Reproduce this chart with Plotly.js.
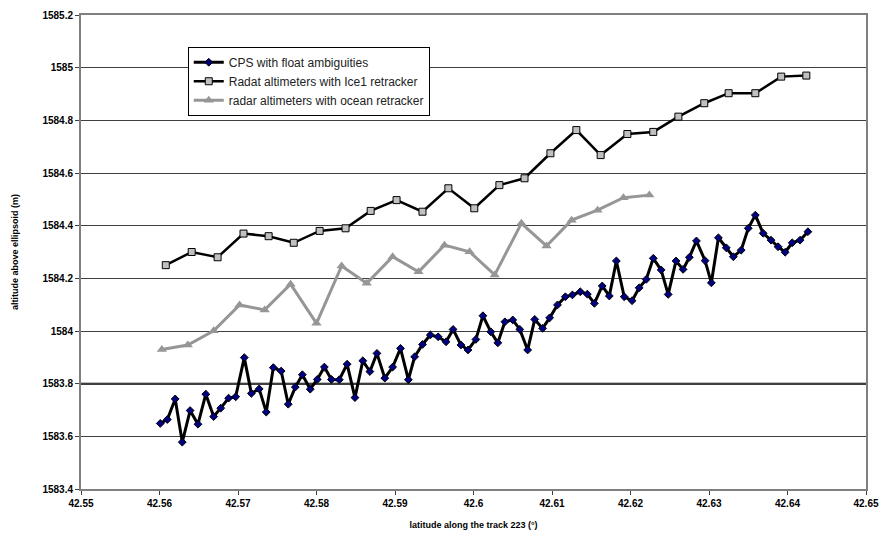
<!DOCTYPE html>
<html>
<head>
<meta charset="utf-8">
<script src="https://cdn.plot.ly/plotly-3.0.1.min.js"></script>
<style>
  html, body { margin: 0; padding: 0; background: #ffffff; }
  #chart { width: 881px; height: 537px; }
</style>
</head>
<body>
<div id="chart"></div>
<script>
// GPS profile with float ambiguities (latitude in degrees, altitude in m)
const gpsLat = [
  42.5601, 42.5610, 42.5620, 42.5629, 42.5639, 42.5649, 42.5659, 42.5669, 42.5678, 42.5688,
  42.5697, 42.5708, 42.5717, 42.5727, 42.5736, 42.5745, 42.5755, 42.5764, 42.5773, 42.5782,
  42.5792, 42.5801, 42.5810, 42.5819, 42.5829, 42.5839, 42.5849, 42.5859, 42.5868, 42.5877,
  42.5887, 42.5897, 42.5907, 42.5917, 42.5925, 42.5935, 42.5945, 42.5955, 42.5965, 42.5974,
  42.5984, 42.5993, 42.6003, 42.6012, 42.6022, 42.6031, 42.6040, 42.6050, 42.6059, 42.6069,
  42.6078, 42.6088, 42.6097, 42.6107, 42.6117, 42.6126, 42.6136, 42.6145, 42.6154, 42.6164,
  42.6173, 42.6182, 42.6192, 42.6202, 42.6211, 42.6220, 42.6229, 42.6239, 42.6248, 42.6258,
  42.6267, 42.6275, 42.6284, 42.6295, 42.6303, 42.6312, 42.6322, 42.6331, 42.6341, 42.6350,
  42.6359, 42.6369, 42.6379, 42.6388, 42.6397, 42.6406, 42.6416, 42.6426
];
const gpsAlt = [
  1583.649, 1583.664, 1583.742, 1583.578, 1583.698, 1583.646, 1583.760, 1583.675, 1583.707, 1583.745,
  1583.750, 1583.899, 1583.763, 1583.780, 1583.692, 1583.861, 1583.848, 1583.722, 1583.787, 1583.834,
  1583.779, 1583.816, 1583.863, 1583.816, 1583.815, 1583.874, 1583.747, 1583.887, 1583.846, 1583.915,
  1583.821, 1583.863, 1583.934, 1583.815, 1583.902, 1583.949, 1583.985, 1583.978, 1583.959, 1584.006,
  1583.947, 1583.928, 1583.968, 1584.058, 1583.997, 1583.955, 1584.035, 1584.042, 1584.006, 1583.928,
  1584.044, 1584.010, 1584.050, 1584.099, 1584.130, 1584.137, 1584.149, 1584.140, 1584.105, 1584.171,
  1584.133, 1584.266, 1584.130, 1584.115, 1584.164, 1584.196, 1584.276, 1584.232, 1584.139, 1584.266,
  1584.234, 1584.280, 1584.342, 1584.267, 1584.183, 1584.354, 1584.316, 1584.282, 1584.307, 1584.390,
  1584.440, 1584.371, 1584.345, 1584.320, 1584.299, 1584.335, 1584.345, 1584.377
];

// Radar altimeter heights, Ice1 retracker
const ice1Lat = [
  42.5608, 42.5641, 42.5674, 42.5707, 42.5739, 42.5771, 42.5804, 42.5837, 42.5869, 42.5902,
  42.5935, 42.5968, 42.6001, 42.6033, 42.6065, 42.6098, 42.6131, 42.6162, 42.6196, 42.6229,
  42.6261, 42.6294, 42.6325, 42.6359, 42.6392, 42.6424
];
const ice1Alt = [
  1584.250, 1584.300, 1584.280, 1584.370, 1584.360, 1584.335, 1584.380, 1584.390, 1584.456, 1584.497,
  1584.453, 1584.542, 1584.466, 1584.554, 1584.580, 1584.675, 1584.763, 1584.668, 1584.748, 1584.756,
  1584.814, 1584.865, 1584.903, 1584.903, 1584.966, 1584.970
];

// Radar altimeter heights, ocean retracker
const oceanLat = [
  42.5603, 42.5636, 42.5669, 42.5702, 42.5734, 42.5767, 42.5800, 42.5832, 42.5864, 42.5897,
  42.5930, 42.5963, 42.5995, 42.6027, 42.6061, 42.6093, 42.6125, 42.6158, 42.6191, 42.6224
];
const oceanAlt = [
  1583.930, 1583.947, 1584.001, 1584.099, 1584.080, 1584.178, 1584.029, 1584.247, 1584.181, 1584.282,
  1584.225, 1584.326, 1584.301, 1584.213, 1584.409, 1584.323, 1584.421, 1584.459, 1584.506, 1584.516
];

const seriesNames = [
  'CPS with float ambiguities',
  'Radat altimeters with Ice1 retracker',
  'radar altimeters with ocean retracker'
];

const axisTitleX = 'latitude along the track 223 (°)';
const axisTitleY = 'altitude above ellipsoid (m)';

const tickFont = { family: '"Liberation Sans", Arial, sans-serif', size: 10, color: '#000000', weight: 700 };
const titleFont = { family: '"Liberation Sans", Arial, sans-serif', size: 9, color: '#000000', weight: 700 };

const traces = [
  {
    x: gpsLat, y: gpsAlt, name: seriesNames[0], type: 'scatter', mode: 'lines+markers',
    line: { color: '#000000', width: 3 },
    marker: { symbol: 'diamond', size: 6, color: '#000080', line: { color: '#000000', width: 1 } }
  },
  {
    x: ice1Lat, y: ice1Alt, name: seriesNames[1], type: 'scatter', mode: 'lines+markers',
    line: { color: '#000000', width: 2.5 },
    marker: { symbol: 'square', size: 7, color: '#c0c0c0', line: { color: '#000000', width: 1 } }
  },
  {
    x: oceanLat, y: oceanAlt, name: seriesNames[2], type: 'scatter', mode: 'lines+markers',
    line: { color: '#969696', width: 3 },
    marker: { symbol: 'triangle-up', size: 9, color: '#969696', line: { color: '#969696', width: 0 } }
  }
];

const layout = {
  width: 881,
  height: 537,
  margin: { l: 81, r: 15, t: 15, b: 48, pad: 0 },
  paper_bgcolor: '#ffffff',
  plot_bgcolor: '#ffffff',
  showlegend: true,
  legend: {
    x: 0.136, y: 0.933, xanchor: 'left', yanchor: 'top',
    bgcolor: '#ffffff', bordercolor: '#000000', borderwidth: 1,
    font: { family: '"Liberation Sans", Arial, sans-serif', size: 12, color: '#222222' },
    tracegroupgap: 0, itemwidth: 30
  },
  xaxis: {
    range: [42.55, 42.65], tick0: 42.55, dtick: 0.01,
    showgrid: false, zeroline: false,
    showline: true, linecolor: '#808080', linewidth: 2, mirror: true,
    ticks: 'outside', ticklen: 4, tickcolor: '#404040', tickwidth: 1,
    tickfont: tickFont,
    title: { text: axisTitleX, font: titleFont, standoff: 14 }
  },
  yaxis: {
    range: [1583.4, 1585.2], tick0: 1583.4, dtick: 0.2, tickformat: '.5~g',
    showgrid: true, gridcolor: '#404040', gridwidth: 1, zeroline: false,
    showline: true, linecolor: '#808080', linewidth: 2, mirror: true,
    ticks: 'outside', ticklen: 4, tickcolor: '#404040', tickwidth: 1,
    tickfont: tickFont,
    title: { text: axisTitleY, font: titleFont, standoff: 22 }
  },
  shapes: [
    {
      type: 'line', xref: 'paper', yref: 'y', x0: 0, x1: 1, y0: 1583.8, y1: 1583.8,
      line: { color: '#000000', width: 2 }, layer: 'below'
    }
  ]
};

Plotly.newPlot('chart', traces, layout, { staticPlot: true, displayModeBar: false });
</script>
</body>
</html>
